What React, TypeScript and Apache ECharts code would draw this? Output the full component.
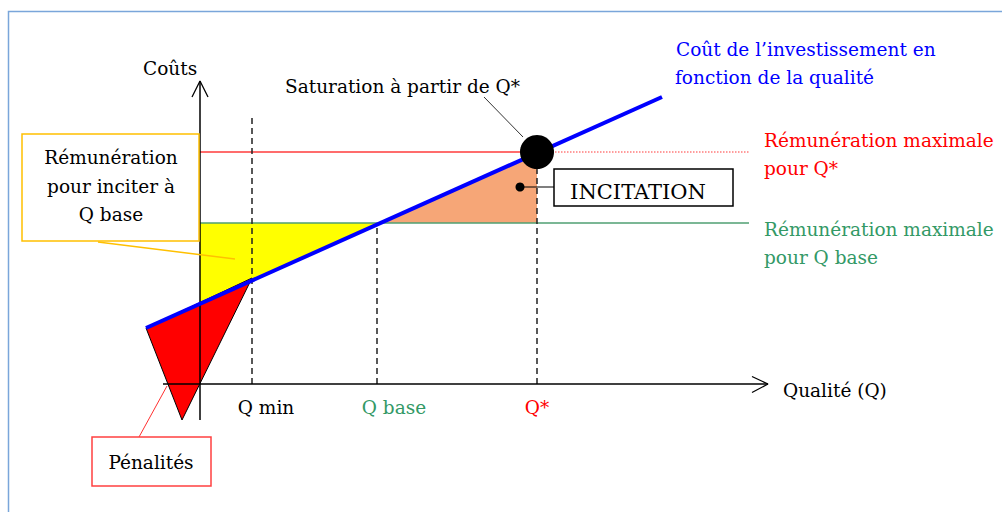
import React, { useEffect, useRef } from "react";
import * as echarts from "echarts";

// ---- Diagram values (abstract units: x = quality, y = costs) ----
const qLabels = ["Q min", "Q base", "Q*"];
const qValues = [5.2, 17.7, 33.7];
const qLabelColors = ["#000000", "#339966", "#ff0000"];
const qLabelOffsets = [14, 17, 0];
const costLineX = [-5.4, 46.2];
const costLineY = [5.6, 28.7];
const remunLevels = [16.1, 23.2]; // max remuneration for Q base, for Q*
const levelEndX = 54.9;
const penaltyX = [-5.4, 5.2, -1.8];
const penaltyY = [5.6, 10.6, -3.6];
const axisExtentX = [-3.7, 56.8];
const axisExtentY = [-3.6, 30.3];
const qMinDashTop = 26.8;
const incitationDot = [32.0, 19.7];
const incitationLineEndX = 35.4;
const saturationPointer = [[28.4, 28.7], [32.3, 24.7]];
const yellowPointer = [[-10.2, 14.2], [3.5, 12.5]];
const penaltyPointer = [[-6.1, -5.3], [-3.3, -0.2]];

const FONT = "'DejaVu Serif', 'Liberation Serif', serif";
const FS = 18.5;

const cost = (x: number) =>
  costLineY[0] + ((x - costLineX[0]) * (costLineY[1] - costLineY[0])) / (costLineX[1] - costLineX[0]);
const costInverse = (y: number) =>
  costLineX[0] + ((y - costLineY[0]) * (costLineX[1] - costLineX[0])) / (costLineY[1] - costLineY[0]);
const penaltyEdgeAt = (x: number) =>
  penaltyY[0] + ((x - penaltyX[0]) * (penaltyY[1] - penaltyY[0])) / (penaltyX[1] - penaltyX[0]);

const polySeries = (pts: number[][], fill: string, stroke?: string) => ({
  type: "custom",
  coordinateSystem: "cartesian2d",
  silent: true,
  data: [[pts[0][0], pts[0][1]]],
  renderItem: (_p: any, api: any) => ({
    type: "polygon",
    shape: { points: pts.map((p) => api.coord(p)) },
    style: { fill, stroke: stroke || "none", lineWidth: stroke ? 1 : 0 },
  }),
});

const lineSeries = (data: number[][], color: string, width: number, type: any = "solid", z = 2) => ({
  type: "line",
  silent: true,
  symbol: "none",
  showSymbol: false,
  animation: false,
  z,
  data,
  lineStyle: { color, width, type, cap: "butt", opacity: 1 },
});

const txt = (text: string, x: number, y: number, color = "#000", align = "left", size = FS) => ({
  type: "text",
  x,
  y,
  z: 10,
  style: {
    text,
    fill: color,
    font: `${size}px ${FONT}`,
    textAlign: align,
    textVerticalAlign: "middle",
    align,
    verticalAlign: "middle",
  },
});

const box = (x: number, y: number, w: number, h: number, stroke: string, fill = "none") => ({
  type: "rect",
  z: 5,
  shape: { x, y, width: w, height: h },
  style: { fill, stroke, lineWidth: 1.5 },
});

export default function App() {
  const ref = useRef<HTMLDivElement>(null);

  useEffect(() => {
    if (!ref.current) return;
    const chart = echarts.init(ref.current, undefined, { renderer: "svg" });

    const [qMin, qBase, qStar] = qValues;
    const [lBase, lStar] = remunLevels;
    const xi = costInverse(lBase);

    const yellow = [
      [0, lBase],
      [xi, lBase],
      [qMin, cost(qMin)],
      [penaltyX[1], penaltyY[1]],
      [0, penaltyEdgeAt(0)],
    ];
    const orange = [
      [xi, lBase],
      [qStar, cost(qStar)],
      [qStar, lBase],
    ];
    const red = penaltyX.map((x, i) => [x, penaltyY[i]]);

    const option: any = {
      animation: false,
      backgroundColor: "#ffffff",
      grid: { left: 0, right: 0, top: 0, bottom: 0, containLabel: false },
      xAxis: { type: "value", min: -20, max: 80.2, show: false },
      yAxis: { type: "value", min: -12.8, max: 38.4, show: false },
      series: [
        polySeries(yellow, "#ffff00"),
        polySeries(orange, "#f6a677"),
        polySeries(red, "#ff0000", "#000000"),
        lineSeries([[0, lBase], [levelEndX, lBase]], "#4f9f72", 1.5),
        lineSeries([[0, lStar], [qStar, lStar]], "#ff3b3b", 1.5),
        lineSeries([[qStar, lStar], [levelEndX, lStar]], "#ff3b3b", 1.2, [1.5, 1.5]),
        lineSeries([[qMin, 0], [qMin, qMinDashTop]], "#222222", 1.5, [6, 4]),
        lineSeries([[qBase, 0], [qBase, lBase]], "#222222", 1.5, [6, 4]),
        lineSeries([[qStar, 0], [qStar, lStar]], "#222222", 1.5, [6, 4]),
        // axes
        lineSeries([[axisExtentX[0], 0], [axisExtentX[1], 0]], "#000000", 1.5),
        lineSeries([[0, axisExtentY[0]], [0, axisExtentY[1]]], "#000000", 1.5),
        lineSeries(
          [[axisExtentX[1] - 1.6, 0.75], [axisExtentX[1], 0], [axisExtentX[1] - 1.6, -0.85]],
          "#000000",
          1.3
        ),
        lineSeries(
          [[-0.8, axisExtentY[1] - 1.6], [0, axisExtentY[1]], [0.8, axisExtentY[1] - 1.6]],
          "#000000",
          1.3
        ),
        // cost of investment
        lineSeries(costLineX.map((x, i) => [x, costLineY[i]]), "#0000ff", 4, "solid", 3),
        // pointers
        lineSeries(saturationPointer, "#333333", 1),
        lineSeries(yellowPointer, "#ffc000", 1.5),
        lineSeries(penaltyPointer, "#ff3030", 1),
        lineSeries([incitationDot, [incitationLineEndX, incitationDot[1]]], "#000000", 1.2),
        {
          type: "scatter",
          silent: true,
          z: 4,
          symbol: "circle",
          symbolSize: 34,
          itemStyle: { color: "#000000", opacity: 1 },
          data: [[qStar, lStar]],
        },
        {
          type: "scatter",
          silent: true,
          z: 4,
          symbol: "circle",
          symbolSize: 9,
          itemStyle: { color: "#000000", opacity: 1 },
          data: [incitationDot],
        },
        {
          type: "scatter",
          silent: true,
          z: 4,
          symbolSize: 0,
          itemStyle: { opacity: 1 },
          data: qValues.map((q, i) => ({
            value: [q, -2.3],
            label: { color: qLabelColors[i], offset: [qLabelOffsets[i], 0] },
          })),
          label: {
            show: true,
            position: "inside",
            fontFamily: FONT,
            fontSize: FS,
            formatter: (p: any) => qLabels[p.dataIndex],
          },
        },
      ],
      graphic: [
        {
          type: "polyline",
          z: 1,
          shape: { points: [[8.5, 512], [8.5, 11.5], [1002, 11.5]] },
          style: { stroke: "#7aa6da", lineWidth: 1.5, fill: "none" },
        },
        txt("Coûts", 143, 68),
        txt("Saturation à partir de Q*", 285, 86),
        txt("Coût de l’investissement en", 676, 49, "#0000ff"),
        txt("fonction de la qualité", 675, 77, "#0000ff"),
        txt("Rémunération maximale", 764, 140, "#ff0000"),
        txt("pour Q*", 764, 168, "#ff0000"),
        txt("Rémunération maximale", 764, 229, "#339966"),
        txt("pour Q base", 764, 257, "#339966"),
        txt("Qualité (Q)", 783, 390),
        box(22, 134, 177, 107, "#ffc000"),
        txt("Rémunération", 111, 157, "#000", "center"),
        txt("pour inciter à", 111, 186, "#000", "center"),
        txt("Q base", 111, 214, "#000", "center"),
        box(554, 169, 179, 37, "#000000", "#ffffff"),
        txt("INCITATION", 638, 192, "#000", "center", 21),
        box(92, 437, 119, 49, "#ff4040", "#ffffff"),
        txt("Pénalités", 151, 462, "#000", "center"),
      ],
    };

    chart.setOption(option);
    return () => chart.dispose();
  }, []);

  return (
    <div
      ref={ref}
      style={{ position: "fixed", left: 0, top: 0, width: 1002, height: 512, background: "#fff" }}
    />
  );
}
